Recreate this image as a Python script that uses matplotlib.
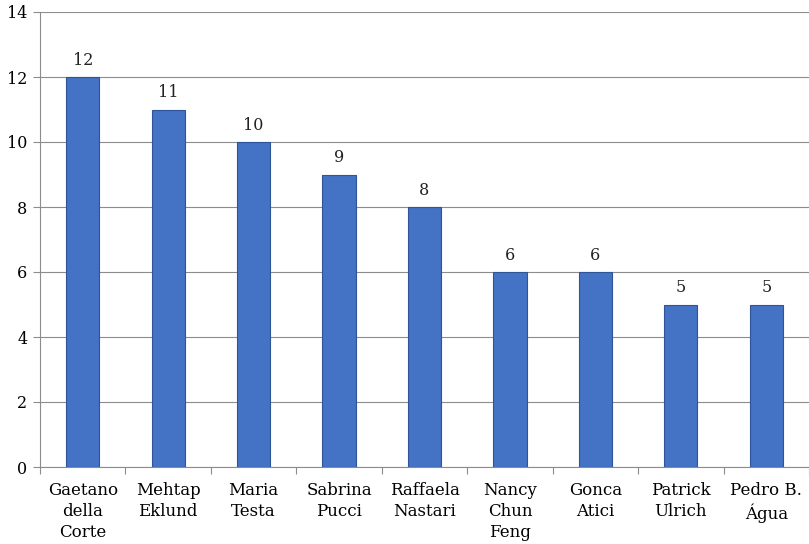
import numpy as np
import matplotlib
matplotlib.use("Agg")
from matplotlib import pyplot as plt

plt.rcParams['font.family'] = ['DejaVu Serif']

names = ["Gaetano\ndella\nCorte", "Mehtap\nEklund", "Maria\nTesta", "Sabrina\nPucci",
         "Raffaela\nNastari", "Nancy\nChun\nFeng", "Gonca\nAtici", "Patrick\nUlrich",
         "Pedro B.\nÁgua"]
counts = [12, 11, 10, 9, 8, 6, 6, 5, 5]
yticks = [0, 2, 4, 6, 8, 10, 12, 14]

fig = plt.figure(figsize=(8.09, 5.44), dpi=100)
ax = fig.add_axes([40/809, 1 - 467/544, 769/809, (467 - 12)/544])

x = np.arange(len(names))
bars = ax.bar(x, counts, width=0.39, color="#4472C4", edgecolor="#2F5597", linewidth=0.8, zorder=3)

for xi, v in zip(x, counts):
    ax.text(xi, v + 0.25, str(v), ha="center", va="bottom", fontsize=11.5, color="#222222")

ax.set_xlim(-0.5, len(names) - 0.5)
ax.set_ylim(0, 14)
ax.set_yticks(yticks)
ax.set_yticklabels([str(t) for t in yticks], fontsize=11.5)
ax.yaxis.grid(True, color="#8c8c8c", linewidth=0.8, zorder=0)

ax.set_xticks(np.arange(len(names) + 1) - 0.5, minor=False)
ax.set_xticklabels([])
ax.set_xticks(x, minor=True)
ax.set_xticklabels(names, minor=True, fontsize=12, linespacing=1.3, va="top")
ax.tick_params(axis="x", which="minor", length=0, pad=11)
ax.tick_params(axis="x", which="major", length=5, color="#8c8c8c", direction="out")
ax.tick_params(axis="y", length=5, color="#8c8c8c", direction="out", pad=4)

for s in ["top", "right"]:
    ax.spines[s].set_visible(False)
for s in ["left", "bottom"]:
    ax.spines[s].set_color("#8c8c8c")
    ax.spines[s].set_linewidth(0.8)

fig.savefig("out.png", dpi=100)
